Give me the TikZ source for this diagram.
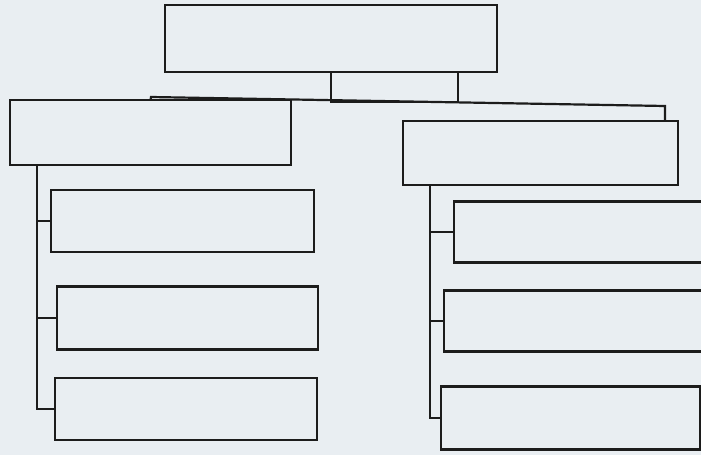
\documentclass[tikz,border=0pt]{standalone}
\usepackage{xcolor}
\definecolor{paper}{HTML}{E9EEF2}
\definecolor{ink}{HTML}{1C1C1C}
\begin{document}
\begin{tikzpicture}[x=1pt,y=-1pt,
  box/.style={draw=ink,line width=2.2pt,fill=paper,rectangle,inner sep=0pt,outer sep=0pt},
  link/.style={draw=ink,line width=2.2pt}]
\useasboundingbox (0,0) rectangle (701,455);
\clip (0,0) rectangle (701,455);
\fill[paper] (0,0) rectangle (701,455);
% top
\node[box,minimum width=332pt,minimum height=67pt] (top) at (331,38.5) {};
\node[box,minimum width=127pt,minimum height=30pt] (sub) at (394.5,87) {};
% level 1
\node[box,minimum width=281pt,minimum height=65pt] (L) at (150.5,132.5) {};
\node[box,minimum width=275pt,minimum height=64pt] (R) at (540.5,153) {};
% left children
\node[box,minimum width=263pt,minimum height=62pt] (L1) at (182.5,221) {};
\node[box,minimum width=261pt,minimum height=63pt] (L2) at (187.5,318) {};
\node[box,minimum width=262pt,minimum height=62pt] (L3) at (186,409) {};
% right children
\node[box,minimum width=306pt,minimum height=61pt] (R1) at (607,232) {};
\node[box,minimum width=316pt,minimum height=61pt] (R2) at (602,321) {};
\node[box,minimum width=259pt,minimum height=63pt] (R3) at (570.5,418) {};
% top connector
\coordinate (tl) at (151,97);
\coordinate (tr) at (665,106);
\draw[link,line join=miter] (L.north) -- (tl) -- (tr) -- (tr |- R.north);
% left spine
\coordinate (ls) at (37,165);
\draw[link] (ls) |- (L3.west);
\draw[link] (ls |- L1.west) -- (L1.west);
\draw[link] (ls |- L2.west) -- (L2.west);
% right spine
\coordinate (rs) at (430,185);
\draw[link] (rs) |- (R3.west);
\draw[link] (rs |- R1.west) -- (R1.west);
\draw[link] (rs |- R2.west) -- (R2.west);
\end{tikzpicture}
\end{document}
